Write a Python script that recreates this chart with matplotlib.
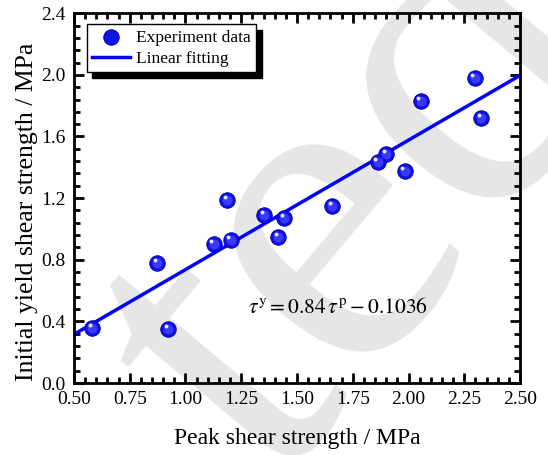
import matplotlib
matplotlib.use('Agg')
import matplotlib.pyplot as plt
import matplotlib.transforms as mtransforms
from matplotlib.ticker import MultipleLocator, FormatStrFormatter
import numpy as np

plt.rcParams['font.family'] = ['Liberation Serif', 'DejaVu Serif']
plt.rcParams['mathtext.fontset'] = 'stix'

# measured data
peak = [0.581, 0.874, 0.923, 1.126, 1.188, 1.202, 1.354, 1.415, 1.443,
        1.657, 1.863, 1.899, 1.983, 2.054, 2.296, 2.326]
yield_ = [0.357, 0.782, 0.353, 0.901, 1.185, 0.929, 1.089, 0.949, 1.072,
          1.150, 1.434, 1.486, 1.375, 1.830, 1.980, 1.722]
slope = 0.84
intercept = -0.1036
fit_x = [0.5, 2.5]

fig = plt.figure(figsize=(5.48, 4.55), dpi=100)
ax = fig.add_axes([0.135, 0.158, 0.814, 0.813])

# faint watermark behind the plot
fig.text(0.67, 0.55, 'ted', fontsize=330, color='#e6e6e6', rotation=50,
         ha='center', va='center', zorder=-1)
ax.set_facecolor('none')

fx = np.array(fit_x)
ax.plot(fx, slope * fx + intercept, color='#0000ff', lw=2.5, zorder=2,
        label='Linear fitting')

# spheres: dark blue ball + light highlight
ax.scatter(peak, yield_, s=125, color='#1010e8', edgecolors='#0000a0',
           linewidths=0.6, zorder=3, label='Experiment data')
ax.scatter(peak, yield_, s=50, color='#3a3aff', zorder=4, linewidths=0)
hl = mtransforms.offset_copy(ax.transData, fig=fig, x=-1.8, y=2.2, units='points')
ax.scatter(peak, yield_, s=8, color='#e8e8ff', zorder=5, linewidths=0, transform=hl)

ax.set_xlim(0.5, 2.5)
ax.set_ylim(0, 2.4)
ax.xaxis.set_major_locator(MultipleLocator(0.25))
ax.xaxis.set_minor_locator(MultipleLocator(0.05))
ax.yaxis.set_major_locator(MultipleLocator(0.4))
ax.yaxis.set_minor_locator(MultipleLocator(0.08))
ax.xaxis.set_major_formatter(FormatStrFormatter('%.2f'))
ax.yaxis.set_major_formatter(FormatStrFormatter('%.1f'))
ax.tick_params(which='both', direction='in', top=True, right=True,
               labelsize=14, width=2)
ax.tick_params(which='major', length=7, pad=6)
ax.tick_params(which='minor', length=4)
for s in ax.spines.values():
    s.set_linewidth(2)

ax.set_xlabel('Peak shear strength / MPa', fontsize=17)
ax.set_ylabel('Initial yield shear strength / MPa', fontsize=18.5)
ax.xaxis.set_label_coords(0.5, -0.122)
ax.yaxis.set_label_coords(-0.081, 0.462)

ax.text(1.28, 0.49, r'$\tau^{\mathrm{y}} = 0.84\,\tau^{\mathrm{p}} - 0.1036$',
        fontsize=15.5, va='center', ha='left')

h, l = ax.get_legend_handles_labels()
leg = ax.legend(h[::-1], l[::-1], loc='upper left', fontsize=12.5,
                frameon=True, fancybox=False, edgecolor='black',
                shadow={'color': 'black', 'alpha': 1, 'ox': 4, 'oy': -4},
                handlelength=2.2, handletextpad=0.35, borderpad=0.3,
                labelspacing=0.3, borderaxespad=0,
                bbox_to_anchor=(0.029, 0.97))
leg.get_frame().set_linewidth(1)

fig.savefig('out.png', dpi=100)
